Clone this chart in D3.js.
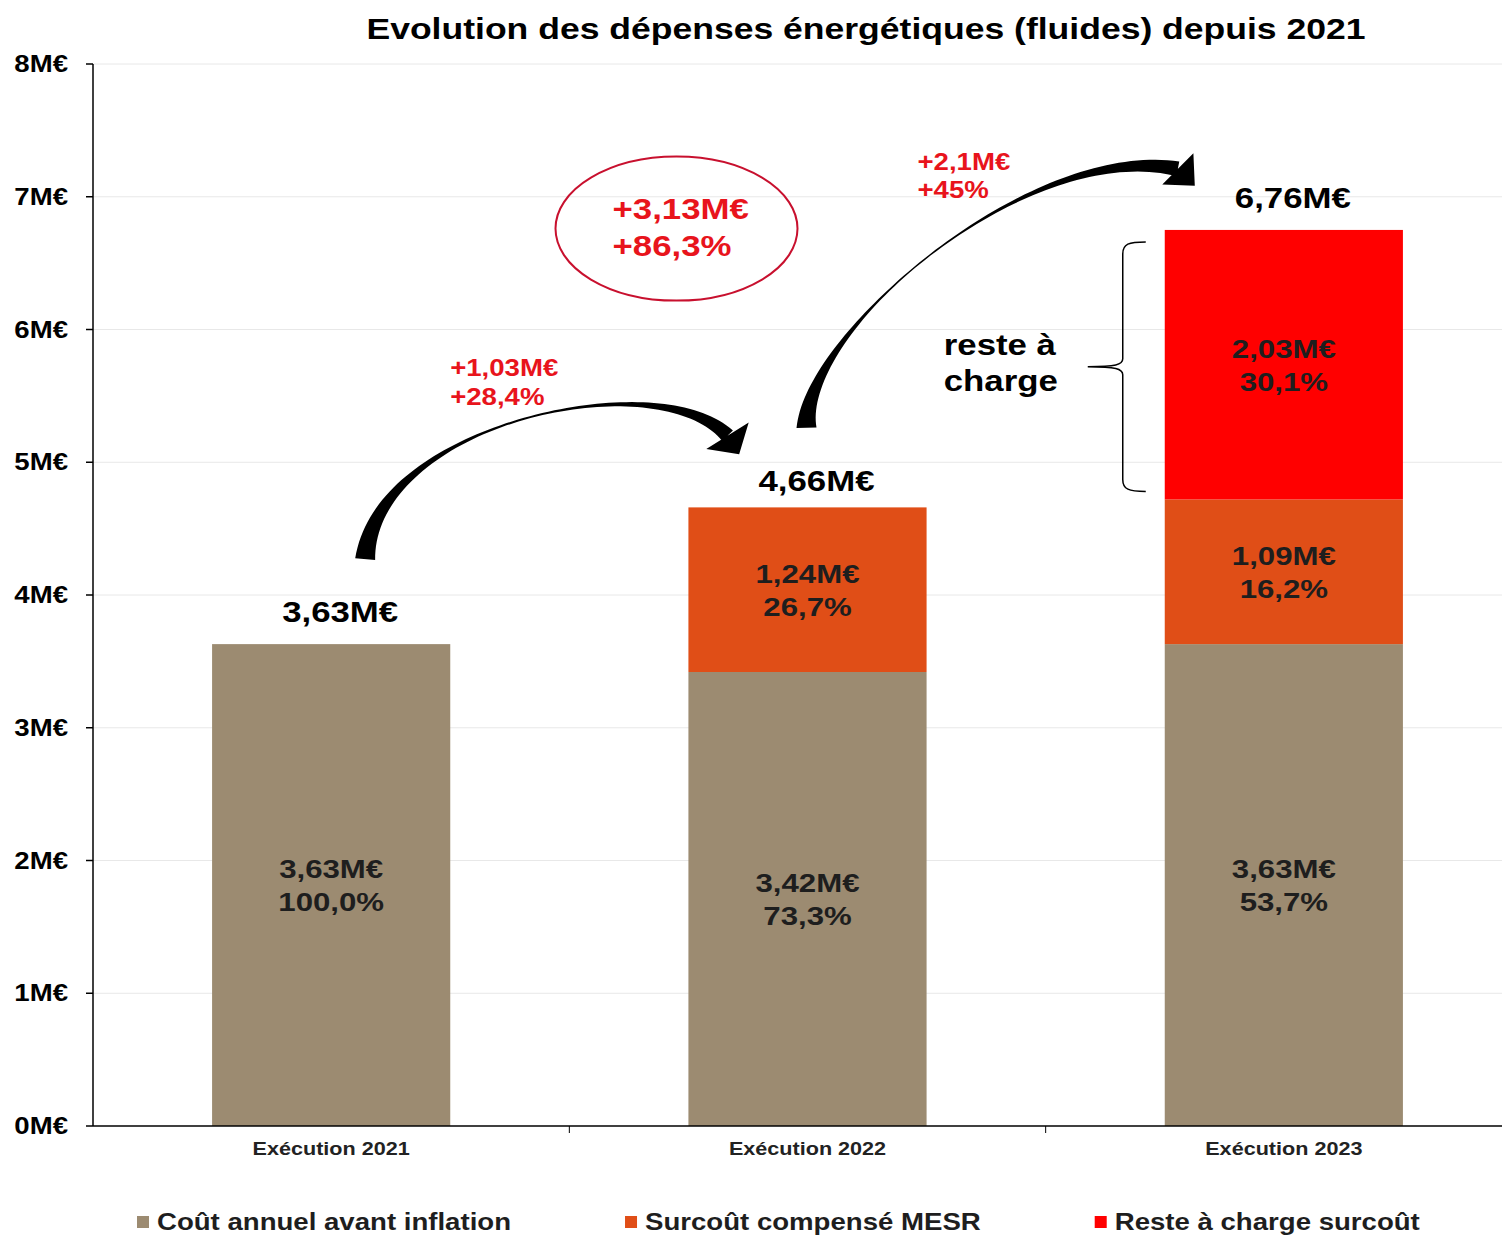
<!DOCTYPE html>
<html>
<head>
<meta charset="utf-8">
<script src="https://cdn.jsdelivr.net/npm/d3@7"></script>
<style>
body { margin: 0; background: #fff; }
svg text { font-family: "Liberation Sans", Arial, sans-serif; font-weight: bold; }
</style>
</head>
<body>
<div id="viz"></div>
<script>
// données (M€)
var categories = ["Exécution 2021", "Exécution 2022", "Exécution 2023"];
var coutAnnuel = [3.63, 3.42, 3.63];
var surcoutMesr = [0, 1.24, 1.09];
var resteCharge = [0, 0, 2.03];
var totalLabels = ["3,63M€", "4,66M€", "6,76M€"];
var coutLabels = [["3,63M€", "100,0%"], ["3,42M€", "73,3%"], ["3,63M€", "53,7%"]];
var mesrLabels = [null, ["1,24M€", "26,7%"], ["1,09M€", "16,2%"]];
var resteLabels = [null, null, ["2,03M€", "30,1%"]];
var yTicks = [0, 1, 2, 3, 4, 5, 6, 7, 8];
var seriesNames = ["Coût annuel avant inflation", "Surcoût compensé MESR", "Reste à charge surcoût"];
var seriesColors = ["#9c8b71", "#e04e17", "#ff0000"];
var variations = [["+1,03M€", "+28,4%"], ["+2,1M€", "+45%"]];
var totalVariation = ["+3,13M€", "+86,3%"];
var titre = "Evolution des dépenses énergétiques (fluides) depuis 2021";

var W = 1502, H = 1236;
var SX = 1.2; // le texte de l'image source est étiré horizontalement

var svg = d3.select("#viz").append("svg")
    .attr("width", W)
    .attr("height", H);

var x = d3.scaleBand()
    .domain(categories)
    .range([93, 1522])
    .paddingInner(0.5)
    .paddingOuter(0.25);

var y = d3.scaleLinear()
    .domain([0, 8])
    .range([1126, 64]);

var bw = x.bandwidth();
function cx(i) { return x(categories[i]) + bw / 2; }

function label(sel, px, py, str, size, anchor, fill, sx) {
    return sel.append("text")
        .attr("transform", "translate(" + px + "," + py + ") scale(" + (sx || SX) + ",1)")
        .attr("text-anchor", anchor || "middle")
        .style("font-size", size + "px")
        .attr("fill", fill || "#000")
        .text(str);
}

// titre
label(svg, 866, 39, titre, 30, "middle", "#000", 1.185);

// grille
svg.append("g").selectAll("line")
    .data(yTicks.filter(function(d) { return d > 0; }))
    .enter().append("line")
    .attr("x1", 93).attr("x2", W)
    .attr("y1", function(d) { return y(d); })
    .attr("y2", function(d) { return y(d); })
    .attr("stroke", "#e8e8e8")
    .attr("stroke-width", 1);

// barres empilées
var rows = categories.map(function(c, i) {
    return { cat: c, cout: coutAnnuel[i], mesr: surcoutMesr[i], reste: resteCharge[i] };
});
var keys = ["cout", "mesr", "reste"];
var stack = d3.stack().keys(keys)(rows);
var segLabels = [coutLabels, mesrLabels, resteLabels];

var layers = svg.append("g").selectAll("g")
    .data(stack)
    .enter().append("g")
    .attr("fill", function(d, i) { return seriesColors[i]; });

layers.selectAll("rect")
    .data(function(d) { return d; })
    .enter().append("rect")
    .attr("x", function(d) { return x(d.data.cat); })
    .attr("y", function(d) { return y(d[1]); })
    .attr("width", bw)
    .attr("height", function(d) { return y(d[0]) - y(d[1]); });

var lbl = svg.append("g");
stack.forEach(function(layer, k) {
    layer.forEach(function(d, i) {
        var txt = segLabels[k][i];
        if (!txt) return;
        var mid = y((d[0] + d[1]) / 2);
        label(lbl, cx(i), mid - 7, txt[0], 26, "middle", "#1e1e1e");
        label(lbl, cx(i), mid + 26, txt[1], 26, "middle", "#1e1e1e");
    });
});

// totaux
var topLayer = stack[stack.length - 1];
topLayer.forEach(function(d, i) {
    label(lbl, cx(i) + 9, y(d[1]) - (i === 1 ? 16 : 22), totalLabels[i], 29, "middle");
});

// axes
var yAxis = svg.append("g");
yAxis.append("line")
    .attr("x1", 93).attr("x2", 93)
    .attr("y1", y(8)).attr("y2", y(0))
    .attr("stroke", "#000").attr("stroke-width", 1.5);
yAxis.selectAll(".tk")
    .data(yTicks).enter().append("line")
    .attr("x1", 86).attr("x2", 93)
    .attr("y1", function(d) { return y(d); })
    .attr("y2", function(d) { return y(d); })
    .attr("stroke", "#000").attr("stroke-width", 1.5);
yTicks.forEach(function(d) {
    label(yAxis, 68, y(d) + 8, d + "M€", 23, "end");
});

var xAxis = svg.append("g");
xAxis.append("line")
    .attr("x1", 93).attr("x2", W)
    .attr("y1", y(0)).attr("y2", y(0))
    .attr("stroke", "#000").attr("stroke-width", 1.5);
var step = x.step();
xAxis.selectAll(".tk")
    .data(categories.slice(1)).enter().append("line")
    .attr("x1", function(d) { return x(d) - step * 0.25; })
    .attr("x2", function(d) { return x(d) - step * 0.25; })
    .attr("y1", y(0)).attr("y2", y(0) + 7)
    .attr("stroke", "#000").attr("stroke-width", 1);
categories.forEach(function(c, i) {
    label(xAxis, cx(i), y(0) + 29, c, 18, "middle", "#222");
});

// flèches courbes
function bez(p, t) {
    var u = 1 - t;
    return [
        u*u*u*p[0][0] + 3*u*u*t*p[1][0] + 3*u*t*t*p[2][0] + t*t*t*p[3][0],
        u*u*u*p[0][1] + 3*u*u*t*p[1][1] + 3*u*t*t*p[2][1] + t*t*t*p[3][1]
    ];
}
function bezD(p, t) {
    var u = 1 - t;
    return [
        3*u*u*(p[1][0]-p[0][0]) + 6*u*t*(p[2][0]-p[1][0]) + 3*t*t*(p[3][0]-p[2][0]),
        3*u*u*(p[1][1]-p[0][1]) + 6*u*t*(p[2][1]-p[1][1]) + 3*t*t*(p[3][1]-p[2][1])
    ];
}
function curvedArrow(pts, w0, wMin, w1, m, headAngle, headLen, headHalf) {
    var left = [], right = [], n = 80;
    for (var s = 0; s <= n; s++) {
        var t = s / n;
        var w = t < m ? wMin + (w0 - wMin) * Math.pow((m - t) / m, 2)
                      : wMin + (w1 - wMin) * Math.pow((t - m) / (1 - m), 2);
        var p = bez(pts, t), d = bezD(pts, t);
        var len = Math.hypot(d[0], d[1]);
        var nx = -d[1] / len, ny = d[0] / len;
        left.push([p[0] + nx * w / 2, p[1] + ny * w / 2]);
        right.push([p[0] - nx * w / 2, p[1] - ny * w / 2]);
    }
    var line = d3.line();
    var body = line(left.concat(right.reverse())) + "Z";
    var e = pts[3], a = headAngle * Math.PI / 180;
    var dx = Math.cos(a), dy = Math.sin(a);
    var head = line([
        [e[0] - dy * headHalf, e[1] + dx * headHalf],
        [e[0] + dx * headLen, e[1] + dy * headLen],
        [e[0] + dy * headHalf, e[1] - dx * headHalf]
    ]) + "Z";
    return body + head;
}

var arrows = svg.append("g").attr("fill", "#000");
arrows.append("path").attr("d", curvedArrow([
    [cx(0) + 34, y(4.27)],
    [cx(0) + 45, y(5.3)],
    [cx(1) - 150, y(5.75)],
    [cx(1) - 80, y(5.2)]
], 20, 2, 15, 0.5, 58, 22, 25));
arrows.append("path").attr("d", curvedArrow([
    [cx(1) - 1, y(5.26)],
    [cx(1) - 3, y(6.0)],
    [cx(2) - 254, y(7.43)],
    [cx(2) - 106, y(7.21)]
], 20, 1.5, 15, 0.45, 45, 24, 22));

// variations en rouge
var red = "#e8141c";
label(svg, cx(0) + 119, y(5.65), variations[0][0], 23, "start", red);
label(svg, cx(0) + 119, y(5.65) + 29, variations[0][1], 23, "start", red);
label(svg, cx(1) + 110, y(7.2), variations[1][0], 23, "start", red);
label(svg, cx(1) + 110, y(7.2) + 28, variations[1][1], 23, "start", red);

var ex = cx(1) - 131, ey = y(6.76);
svg.append("ellipse")
    .attr("cx", ex).attr("cy", ey)
    .attr("rx", 121).attr("ry", 72)
    .attr("fill", "none")
    .attr("stroke", "#c8102e")
    .attr("stroke-width", 2);
label(svg, ex - 64, ey - 10, totalVariation[0], 29, "start", red);
label(svg, ex - 64, ey + 27, totalVariation[1], 29, "start", red);

// accolade "reste à charge"
var bl = x(categories[2]);
var topB = y(topLayer[2][1]) + 12;
var botB = y(stack[1][2][1]) - 8;
var midB = (topB + botB) / 2;
var xr = bl - 19, xv = bl - 42, xt = bl - 77;
svg.append("path")
    .attr("d", "M" + xr + "," + topB +
        " C" + (xv + 6) + "," + topB + " " + xv + "," + (topB + 2) + " " + xv + "," + (topB + 12) +
        " L" + xv + "," + (midB - 8) +
        " C" + xv + "," + (midB - 2) + " " + (xv - 7) + "," + midB + " " + xt + "," + midB +
        " C" + (xv - 7) + "," + midB + " " + xv + "," + (midB + 2) + " " + xv + "," + (midB + 8) +
        " L" + xv + "," + (botB - 12) +
        " C" + xv + "," + (botB - 2) + " " + (xv + 6) + "," + botB + " " + xr + "," + botB)
    .attr("fill", "none")
    .attr("stroke", "#000")
    .attr("stroke-width", 1.5);
label(svg, bl - 221, midB - 12, "reste à", 29, "start");
label(svg, bl - 221, midB + 24, "charge", 29, "start");

// légende
var legend = svg.append("g");
var lx = 137;
seriesNames.forEach(function(name, i) {
    legend.append("rect")
        .attr("x", lx).attr("y", 1216)
        .attr("width", 12).attr("height", 12)
        .attr("fill", seriesColors[i]);
    var t = label(legend, lx + 20, 1230, name, 23, "start", "#1e1e1e");
    lx += 20 + t.node().getComputedTextLength() * SX + 114;
});
</script>
</body>
</html>
